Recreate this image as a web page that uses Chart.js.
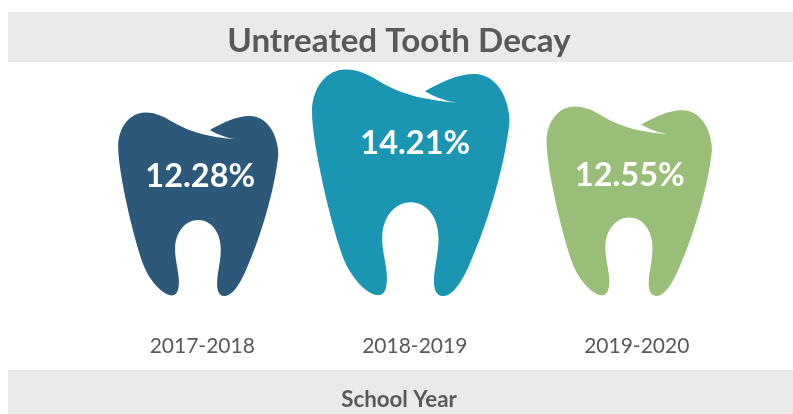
<!DOCTYPE html>
<html>
<head>
<meta charset="utf-8">
<title>Untreated Tooth Decay</title>
<script src="https://cdn.jsdelivr.net/npm/chart.js@4"></script>
<style>
    html, body { margin: 0; padding: 0; background: #fff; overflow: hidden; }
    #wrap { width: 793px; height: 414px; }
</style>
</head>
<body>
<div id="wrap"><canvas id="chart" width="793" height="414"></canvas></div>
<script>
const schoolYears = ['2017-2018', '2018-2019', '2019-2020'];
const decayRates = [12.28, 14.21, 12.55];
const toothColors = ['#2C5879', '#1A96B3', '#98BE77'];
const axisMin = 4;
const axisMax = 14.55;

// small nudges in px, the source picture doesn't space things evenly
const toothShift = [-2.5, -7.5, -6.5];
const labelShift = [{ x: 2, y: 1 }, { x: 4.5, y: -4 }, { x: 0.5, y: 4 }];
const tickShift = [1.5, -3.5, 1];

const greyBand = '#EAEAE8';
const textGrey = '#595959';

// tooth outline, traced in a 484 x 555 box
const toothPath = new Path2D(
    'M82 0 C117 0 142 15 172 33 C212 56 267 75 355 81 C332 78 302 68 277 53 ' +
    'C317 31 357 11 397 11 C457 11 484 78 484 128 C472 243 427 383 392 463 ' +
    'C372 513 347 555 322 555 C299 555 297 528 300 498 C305 463 310 443 310 413 ' +
    'C310 363 282 325 242 325 C202 325 172 363 172 413 C172 443 179 463 183 498 ' +
    'C185 528 182 553 162 553 C137 553 97 513 77 463 C47 383 0 183 0 103 C0 43 37 0 82 0 Z'
);

const toothPlugin = {
    id: 'teeth',
    beforeDraw(chart) {
        const ctx = chart.ctx;
        ctx.save();
        ctx.fillStyle = greyBand;
        ctx.fillRect(8, 12, 785, 50);
        ctx.fillRect(8, 370, 785, 44);
        ctx.restore();
    },
    // swap the bar rectangles for teeth, height comes from the bar itself
    beforeDatasetDraw(chart, args) {
        const ctx = chart.ctx;
        args.meta.data.forEach((bar, i) => {
            const scale = (bar.base - bar.y) / 555;
            ctx.save();
            ctx.translate(bar.x + toothShift[i] - 242 * scale, bar.y);
            ctx.scale(scale, scale);
            ctx.fillStyle = bar.options.backgroundColor;
            ctx.fill(toothPath);
            ctx.restore();
        });
        return false;
    },
    afterDatasetsDraw(chart) {
        const ctx = chart.ctx;
        chart.getDatasetMeta(0).data.forEach((bar, i) => {
            const h = bar.base - bar.y;
            ctx.save();
            ctx.font = 'bold 32.5px Lato';
            ctx.fillStyle = '#fff';
            ctx.textAlign = 'center';
            ctx.textBaseline = 'middle';
            ctx.fillText(decayRates[i].toFixed(2) + '%', bar.x + toothShift[i] + labelShift[i].x, bar.y + h * 0.345 + labelShift[i].y);
            ctx.restore();
        });
    }
};

new Chart(document.getElementById('chart'), {
    type: 'bar',
    data: {
        labels: schoolYears,
        datasets: [{ data: decayRates, backgroundColor: toothColors, base: axisMin }]
    },
    plugins: [toothPlugin],
    options: {
        responsive: false,
        animation: false,
        layout: { padding: { left: 5, top: 12 } },
        plugins: {
            legend: { display: false },
            tooltip: { enabled: false },
            title: {
                display: true,
                text: 'Untreated Tooth Decay',
                color: textGrey,
                font: { family: 'Lato', size: 33.2, weight: 'bold', lineHeight: 1.2 },
                padding: { top: 9, bottom: 1.2 }
            },
            subtitle: {
                display: true,
                position: 'bottom',
                text: 'School Year',
                color: textGrey,
                font: { family: 'Lato', size: 22.3, weight: 'bold', lineHeight: 1.2 },
                padding: { top: 16, bottom: 1.2 }
            }
        },
        scales: {
            x: {
                grid: { display: false, drawTicks: false },
                border: { display: false },
                ticks: { color: textGrey, font: { family: 'Lato', size: 21 }, padding: 38, maxRotation: 0 },
                afterFit(scale) {
                    scale.height = 74;
                    if (scale.tickNudged) return;
                    scale.tickNudged = true;
                    const getPixel = scale.getPixelForTick;
                    scale.getPixelForTick = function (i) { return getPixel.call(this, i) + tickShift[i]; };
                }
            },
            y: {
                min: axisMin,
                max: axisMax,
                grid: { display: false, drawTicks: false },
                border: { display: false },
                ticks: { display: false },
                afterFit(scale) { scale.width = 87; }
            },
            yRight: {
                position: 'right',
                grid: { display: false, drawTicks: false },
                border: { display: false },
                ticks: { display: false },
                afterFit(scale) { scale.width = 48.5; }
            }
        }
    }
});
</script>
</body>
</html>
